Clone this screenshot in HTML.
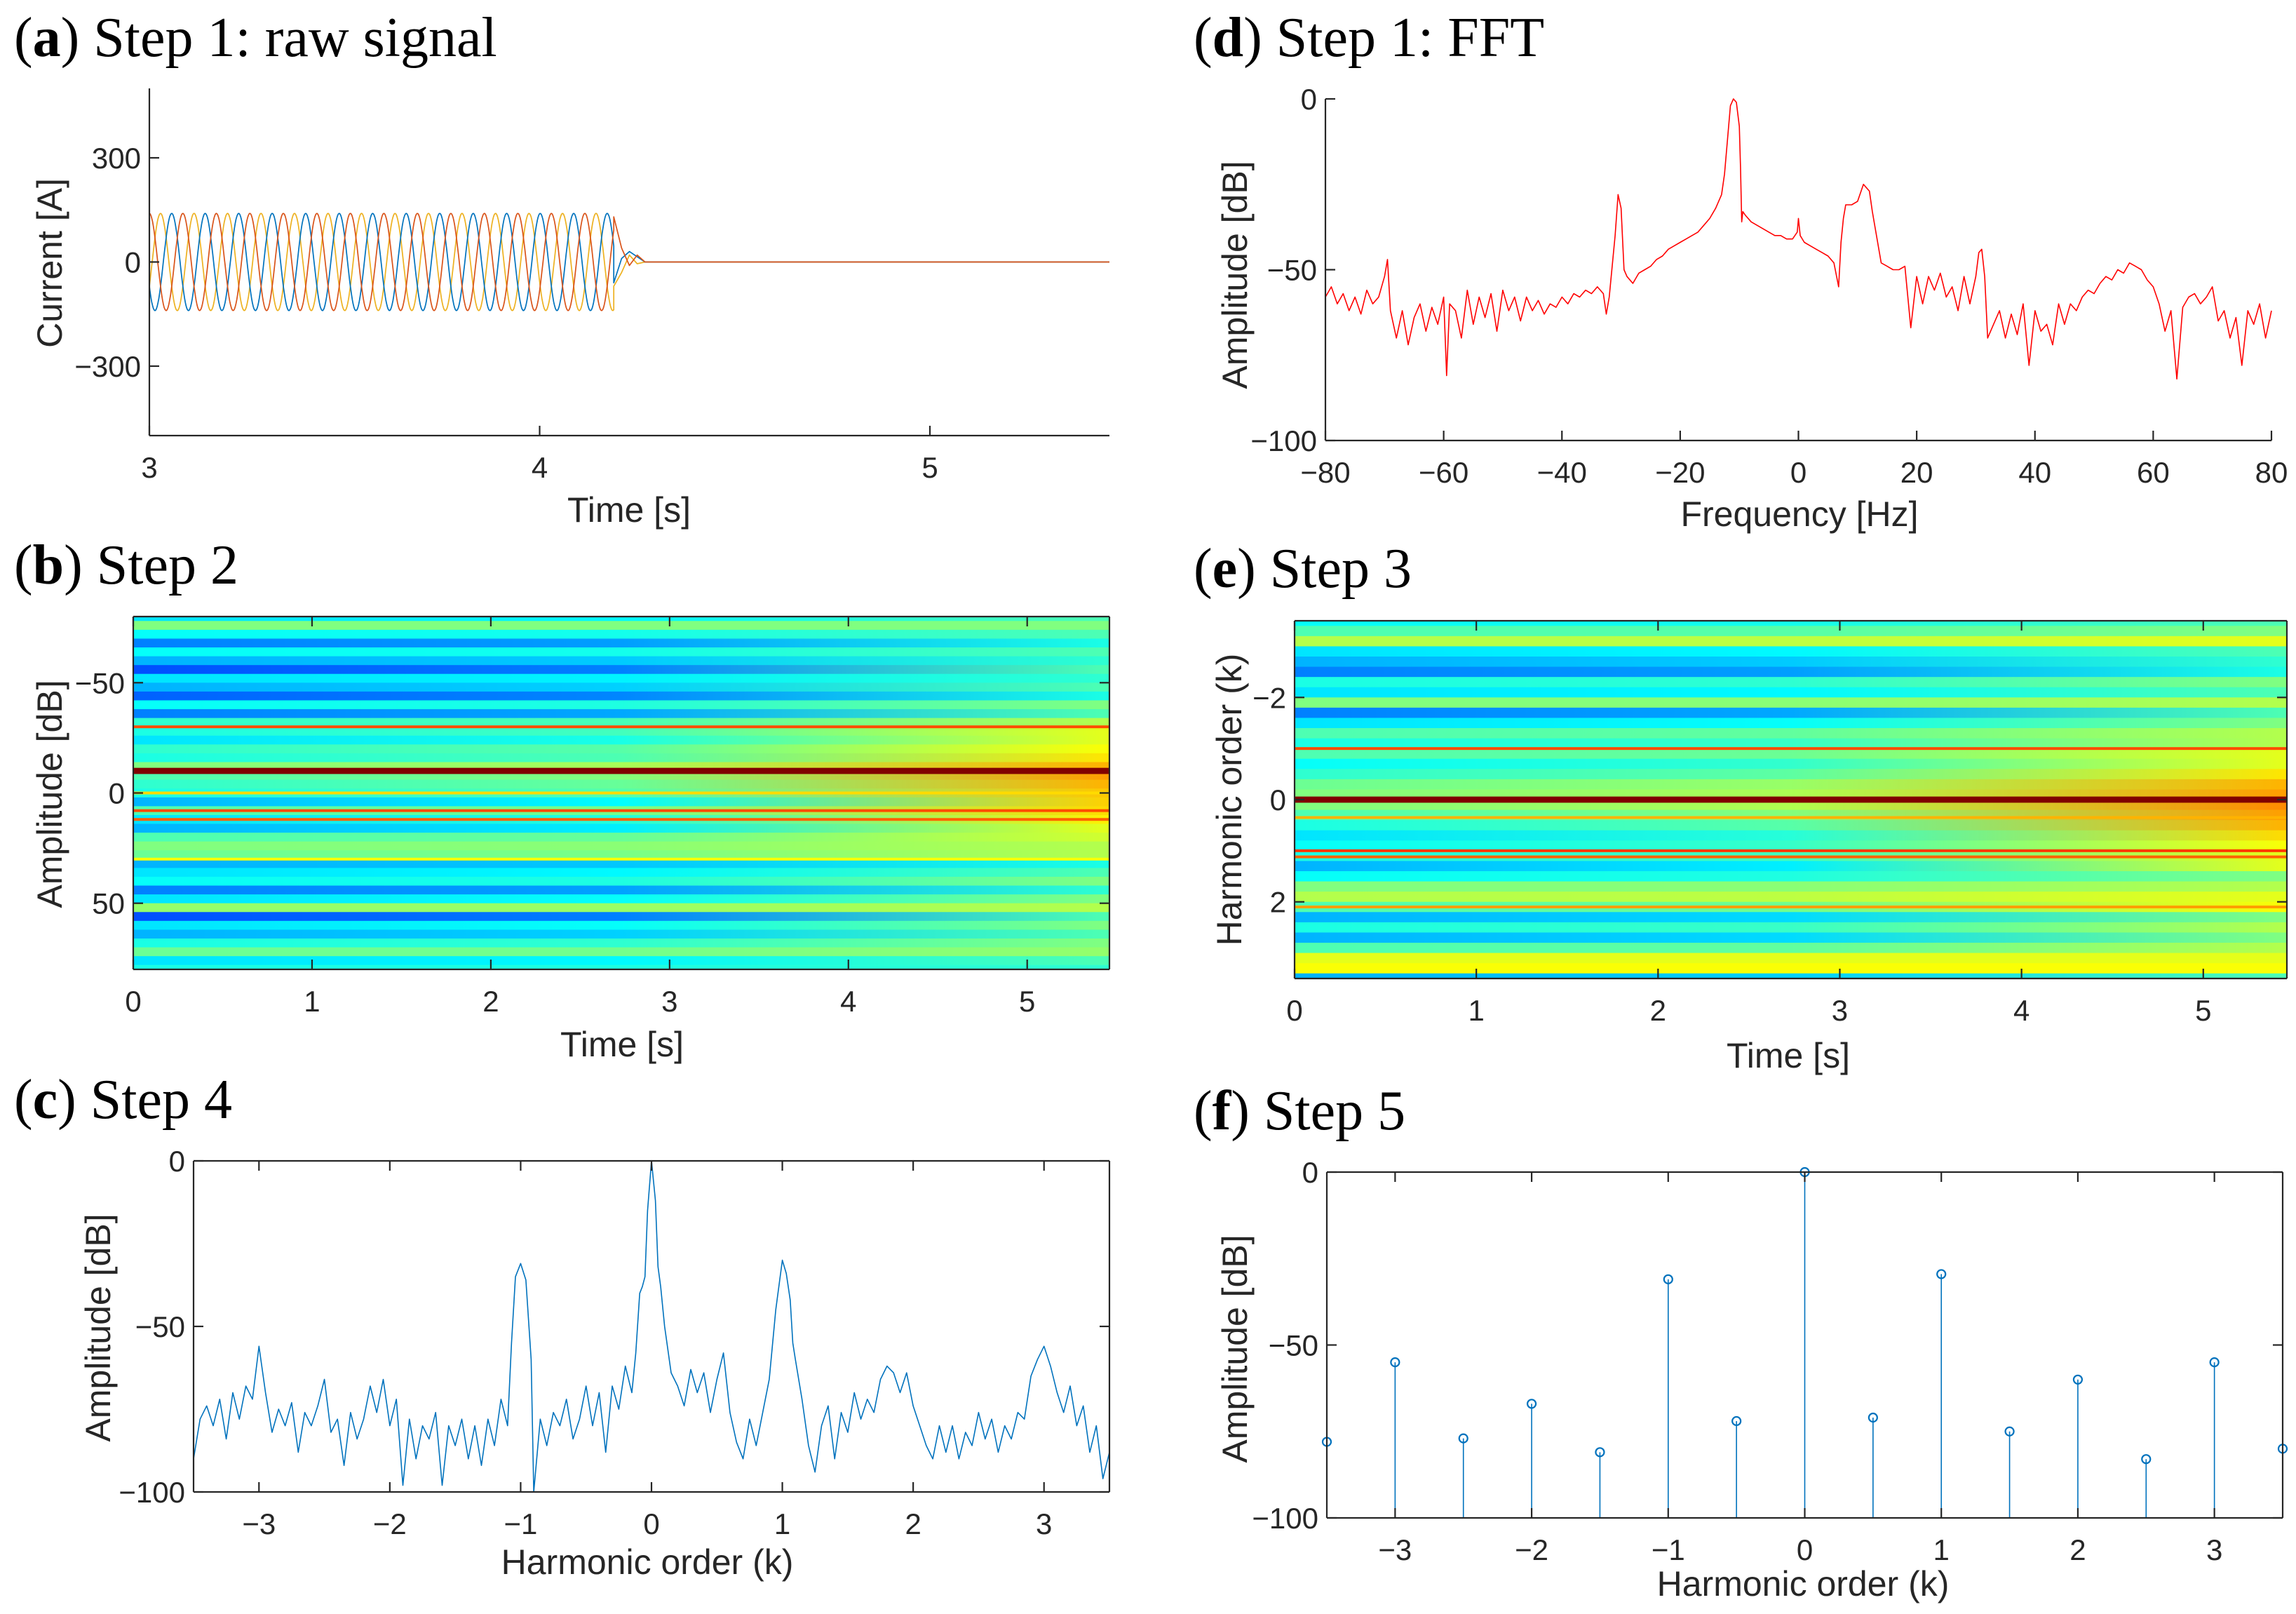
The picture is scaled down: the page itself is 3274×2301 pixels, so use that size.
<!DOCTYPE html>
<html><head><meta charset="utf-8"><style>
html,body{margin:0;padding:0;background:#fff;}
svg{display:block;}
text{font-family:"Liberation Sans",sans-serif;fill:#262626;}
.ttl{font-family:"Liberation Serif",serif;fill:#000;font-size:80px;}
</style></head><body>
<svg id="fig" width="3274" height="2301" viewBox="0 0 3274 2301" xmlns="http://www.w3.org/2000/svg"><defs id="defs"></defs></svg>
<script>
// ---------- data ----------
// (a) raw signal
const phaseNames = ['orange','yellow','blue'];
const phaseAmps = [140, 140, 140];
const sigFreqHz = 11.65;
const faultEndT = 4.19;
const tailT = [4.19, 4.21, 4.23, 4.25, 4.27];
const tailOrange = [130, 40, -10, 20, 0];
const tailYellow = [-70, -30, 20, -5, 0];
const tailBlue = [-60, 10, 30, 15, 0];
// (d) FFT
const fftFreq = [-80,-79,-78,-77,-76,-75,-74,-73,-72,-71,-70,-69.5,-69,-68,-67,-66,-65,-64,-63,-62,-61,-60,-59.5,-59,-58,-57,-56,-55,-54,-53,-52,-51,-50,-49,-48,-47,-46,-45,-44,-43,-42,-41,-40,-39,-38,-37,-36,-35,-34,-33,-32.5,-32,-31,-30.5,-30,-29.5,-29,-28,-27,-26,-25,-24,-23,-22,-21,-20,-19,-18,-17,-16,-15,-14,-13,-12.5,-12,-11.5,-11,-10.5,-10,-9.8,-9.6,-9.4,-9,-8,-7,-6,-5,-4,-3,-2,-1,-0.2,0,0.3,1,2,3,4,5,6,6.8,7.2,7.6,8,9,10,11,12,12.5,13,14,15,16,17,18,18.5,19,20,21,22,23,24,25,26,27,28,29,30,30.5,31,31.5,32,33,34,35,36,37,38,39,40,41,42,43,44,45,46,47,48,49,50,51,52,53,54,55,56,57,58,59,60,61,62,63,64,65,66,67,68,69,70,71,72,73,74,75,76,77,78,79,80];
const fftAmp = [-58,-55,-60,-57,-62,-58,-63,-56,-60,-58,-52,-47,-62,-70,-62,-72,-64,-60,-68,-61,-66,-58,-81,-60,-62,-70,-56,-66,-58,-64,-57,-68,-56,-62,-58,-65,-58,-62,-59,-63,-60,-61,-58,-60,-57,-58,-56,-57,-55,-57,-63,-58,-40,-28,-32,-50,-52,-54,-51,-50,-49,-47,-46,-44,-43,-42,-41,-40,-39,-37,-35,-32,-28,-22,-12,-2,0,-1,-8,-20,-36,-33,-34,-36,-37,-38,-39,-40,-40,-41,-41,-39,-35,-40,-42,-43,-44,-45,-46,-48,-55,-42,-35,-31,-31,-30,-25,-27,-33,-38,-48,-49,-50,-50,-49,-58,-67,-52,-60,-52,-56,-51,-58,-55,-62,-52,-60,-52,-45,-44,-52,-70,-66,-62,-70,-63,-69,-60,-78,-62,-68,-66,-72,-60,-66,-60,-62,-58,-56,-57,-54,-52,-53,-50,-51,-48,-49,-50,-53,-55,-60,-68,-62,-82,-61,-58,-57,-60,-58,-55,-65,-62,-70,-64,-78,-62,-66,-60,-70,-62];
// (c) Step 4 spectrum
const specK = [-3.5,-3.45,-3.4,-3.35,-3.3,-3.25,-3.2,-3.15,-3.1,-3.05,-3.0,-2.95,-2.9,-2.85,-2.8,-2.75,-2.7,-2.65,-2.6,-2.55,-2.5,-2.45,-2.4,-2.35,-2.3,-2.25,-2.2,-2.15,-2.1,-2.05,-2.0,-1.95,-1.9,-1.85,-1.8,-1.75,-1.7,-1.65,-1.6,-1.55,-1.5,-1.45,-1.4,-1.35,-1.3,-1.25,-1.2,-1.15,-1.1,-1.07,-1.04,-1.0,-0.96,-0.92,-0.9,-0.85,-0.8,-0.75,-0.7,-0.65,-0.6,-0.55,-0.5,-0.45,-0.4,-0.35,-0.3,-0.25,-0.2,-0.15,-0.12,-0.09,-0.07,-0.05,-0.03,0,0.03,0.05,0.07,0.1,0.15,0.2,0.25,0.3,0.35,0.4,0.45,0.5,0.55,0.6,0.65,0.7,0.75,0.8,0.85,0.9,0.95,1.0,1.03,1.06,1.08,1.1,1.15,1.2,1.25,1.3,1.35,1.4,1.45,1.5,1.55,1.6,1.65,1.7,1.75,1.8,1.85,1.9,1.95,2.0,2.05,2.1,2.15,2.2,2.25,2.3,2.35,2.4,2.45,2.5,2.55,2.6,2.65,2.7,2.75,2.8,2.85,2.9,2.95,3.0,3.05,3.1,3.15,3.2,3.25,3.3,3.35,3.4,3.45,3.5];
const specAmp = [-90,-78,-74,-80,-72,-84,-70,-78,-68,-72,-56,-70,-82,-75,-80,-73,-88,-76,-80,-74,-66,-82,-78,-92,-76,-84,-78,-68,-76,-66,-80,-72,-98,-78,-90,-80,-84,-76,-98,-80,-86,-78,-90,-80,-92,-78,-86,-72,-80,-55,-35,-31,-36,-60,-100,-78,-86,-76,-80,-72,-84,-78,-68,-80,-70,-88,-68,-75,-62,-70,-58,-40,-38,-35,-15,0,-12,-32,-38,-50,-64,-68,-74,-63,-70,-64,-76,-66,-58,-76,-85,-90,-78,-86,-76,-66,-45,-30,-34,-42,-55,-60,-72,-86,-94,-80,-74,-90,-76,-82,-70,-78,-72,-76,-66,-62,-64,-70,-64,-74,-80,-86,-90,-80,-88,-80,-90,-82,-86,-76,-84,-78,-88,-80,-84,-76,-78,-65,-60,-56,-62,-70,-76,-68,-80,-74,-88,-80,-96,-88];
// (f) Step 5 stems
const stemK = [-3.5,-3,-2.5,-2,-1.5,-1,-0.5,0,0.5,1,1.5,2,2.5,3,3.5];
const stemAmp = [-78,-55,-77,-67,-81,-31,-72,0,-71,-29.5,-75,-60,-83,-55,-80];
// (b) Step 2 heatmap (jet levels 0..1), rows every 4 Hz
const bRowFreq = [-80,-76,-72,-68,-64,-60,-56,-52,-48,-44,-40,-36,-32,-28,-24,-20,-16,-12,-8,-4,0,4,8,12,16,20,24,28,32,36,40,44,48,52,56,60,64,68,72,76,80];
const bLeft = [.35,.5,.38,.25,.38,.3,.2,.35,.3,.22,.38,.25,.42,.4,.35,.42,.4,.5,.45,.42,.4,.3,.45,.35,.3,.45,.5,.48,.3,.35,.38,.25,.35,.52,.2,.35,.3,.4,.48,.35,.4];
const bRight = [.45,.5,.45,.4,.45,.42,.45,.42,.45,.4,.5,.45,.55,.6,.6,.62,.65,.7,.72,.7,.68,.67,.66,.64,.6,.58,.55,.55,.4,.45,.5,.42,.5,.55,.45,.5,.45,.5,.52,.45,.42];
const bLineFreq = [-30, -10, 0, 8, 12, 30];
const bLineLevel = [.8, 1.0, .66, .8, .78, .62];
// (e) Step 3 heatmap, rows every 0.2 k
const eRowK = [-3.5,-3.3,-3.1,-2.9,-2.7,-2.5,-2.3,-2.1,-1.9,-1.7,-1.5,-1.3,-1.1,-0.9,-0.7,-0.5,-0.3,-0.1,0.1,0.3,0.5,0.7,0.9,1.1,1.3,1.5,1.7,1.9,2.1,2.3,2.5,2.7,2.9,3.1,3.3,3.5];
const eLeft = [.38,.45,.55,.35,.3,.25,.4,.35,.5,.25,.35,.45,.4,.45,.38,.42,.48,.5,.5,.45,.4,.35,.38,.4,.3,.38,.5,.55,.45,.3,.4,.3,.45,.6,.62,.3];
const eRight = [.45,.5,.6,.45,.42,.4,.5,.45,.55,.45,.5,.55,.55,.6,.6,.65,.7,.72,.74,.72,.7,.66,.62,.6,.6,.5,.55,.6,.62,.5,.55,.5,.55,.6,.62,.45];
const eLineK = [-1.0, 0, 0.35, 1.0, 1.12, 2.1];
const eLineLevel = [.8, 1.0, .7, .82, .78, .72];

// ---------- helpers ----------
const NS = 'http://www.w3.org/2000/svg';
const svg = document.getElementById('fig');
const defs = document.getElementById('defs');
function el(tag, attrs, parent) {
  const e = document.createElementNS(NS, tag);
  for (const k in attrs) e.setAttribute(k, attrs[k]);
  (parent || svg).appendChild(e);
  return e;
}
function jet(v) {
  v = Math.max(0, Math.min(1, v));
  const r = Math.max(0, Math.min(1, 1.5 - Math.abs(4 * v - 3)));
  const g = Math.max(0, Math.min(1, 1.5 - Math.abs(4 * v - 2)));
  const b = Math.max(0, Math.min(1, 1.5 - Math.abs(4 * v - 1)));
  return 'rgb(' + Math.round(r * 255) + ',' + Math.round(g * 255) + ',' + Math.round(b * 255) + ')';
}
function fmt(v) { return (v < 0 ? '\u2212' : '') + Math.abs(v); }
function makeAxes(p) {
  const g = el('g', {});
  
  
  p.g = g;
  p.sx = v => p.x0 + (v - p.xd[0]) / (p.xd[1] - p.xd[0]) * (p.x1 - p.x0);
  p.sy = p.yrev ? (v => p.y0 + (v - p.yd[0]) / (p.yd[1] - p.yd[0]) * (p.y1 - p.y0))
                : (v => p.y1 - (v - p.yd[0]) / (p.yd[1] - p.yd[0]) * (p.y1 - p.y0));
  const t = el('text', {x: p.tx, y: p.ty, class: 'ttl'}, g);
  
  
  const t1 = el('tspan', {}, t); t1.textContent = '(';
  const t2 = el('tspan', {'font-weight': 'bold'}, t); t2.textContent = p.letter;
  const t3 = el('tspan', {}, t); t3.textContent = ') ' + p.title;
  const plot = el('g', {}, g);
  
  
  p.plot = plot;
  return p;
}
function finishAxes(p) {
  const g = p.g;
  const ax = el('g', {stroke: '#262626', 'stroke-width': 2.2, fill: 'none'}, g);
  
  
  el('line', {x1: p.x0, y1: p.y1, x2: p.x1, y2: p.y1}, ax);
  el('line', {x1: p.x0, y1: p.y0, x2: p.x0, y2: p.y1}, ax);
  if (p.box) {
    el('line', {x1: p.x0, y1: p.y0, x2: p.x1, y2: p.y0}, ax);
    el('line', {x1: p.x1, y1: p.y0, x2: p.x1, y2: p.y1}, ax);
  }
  const tl = 14;
  p.xticks.forEach(v => {
    const x = p.sx(v);
    el('line', {x1: x, y1: p.y1, x2: x, y2: p.y1 - tl}, ax);
    if (p.box) el('line', {x1: x, y1: p.y0, x2: x, y2: p.y0 + tl}, ax);
    const t = el('text', {x: x, y: p.y1 + 60, 'font-size': 42, 'text-anchor': 'middle'}, g);
    
    
    t.textContent = fmt(v);
  });
  p.yticks.forEach(v => {
    const y = p.sy(v);
    el('line', {x1: p.x0, y1: y, x2: p.x0 + tl, y2: y}, ax);
    if (p.box) el('line', {x1: p.x1, y1: y, x2: p.x1 - tl, y2: y}, ax);
    const t = el('text', {x: p.x0 - 12, y: y + 15, 'font-size': 42, 'text-anchor': 'end'}, g);
    
    
    t.textContent = fmt(v);
  });
  const xl = el('text', {x: p.xlx, y: p.xly, 'font-size': 50, 'text-anchor': 'middle'}, g);
  
  
  xl.textContent = p.xlabel;
  const yl = el('text', {x: 0, y: 0, 'font-size': 50, 'text-anchor': 'middle', transform: 'translate(' + p.ylx + ',' + p.yly + ') rotate(-90)'}, g);
  
  
  yl.textContent = p.ylabel;
}
function linePath(p, xs, ys, color, width, name) {
  let d = '';
  for (let i = 0; i < xs.length; i++) {
    const yv = Math.max(p.yd[0], Math.min(p.yd[1], ys[i]));
    d += (i ? 'L' : 'M') + p.sx(xs[i]).toFixed(1) + ',' + p.sy(yv).toFixed(1);
  }
  const path = el('path', {d: d, fill: 'none', stroke: color, 'stroke-width': width, 'stroke-linejoin': 'round'}, p.plot);
  
  
  return path;
}
let gradId = 0;
function heatmap(p, rows, left, right, step, lines, lineLvl, lineW) {
  rows.forEach((r, i) => {
    const id = 'hg' + (gradId++);
    const lg = el('linearGradient', {id: id, x1: 0, y1: 0, x2: 1, y2: 0}, defs);
    el('stop', {offset: 0, 'stop-color': jet(left[i])}, lg);
    el('stop', {offset: 0.5, 'stop-color': jet(left[i] * 0.8 + right[i] * 0.2)}, lg);
    el('stop', {offset: 1, 'stop-color': jet(right[i])}, lg);
    const ya = p.sy(Math.max(p.yd[0], r - step / 2)), yb = p.sy(Math.min(p.yd[1], r + step / 2));
    const rc = el('rect', {x: p.x0, y: Math.min(ya, yb), width: p.x1 - p.x0, height: Math.abs(yb - ya) + 0.5, fill: 'url(#' + id + ')'}, p.plot);
    
    
  });
  lines.forEach((r, i) => {
    const w = lineLvl[i] >= 1 ? lineW * 2.2 : lineW;
    const ln = el('rect', {x: p.x0, y: p.sy(r) - w / 2, width: p.x1 - p.x0, height: w, fill: jet(lineLvl[i])}, p.plot);
    
    
  });
}

// ---------- (a) ----------
const A = makeAxes({name: 'panel-a-raw-signal', letter: 'a', title: 'Step 1: raw signal', tx: 20, ty: 80,
  x0: 213, x1: 1582, y0: 126, y1: 621, xd: [3, 5.46], yd: [-500, 500], box: false,
  xticks: [3, 4, 5], yticks: [-300, 0, 300], xlabel: 'Time [s]', ylabel: 'Current [A]', xlx: 897, xly: 744, ylx: 88, yly: 375});
const aColors = {orange: '#D95319', yellow: '#EDB120', blue: '#0072BD'};
const aTails = {orange: tailOrange, yellow: tailYellow, blue: tailBlue};
['yellow', 'blue', 'orange'].forEach(nm => {
  const idx = phaseNames.indexOf(nm);
  const xs = [], ys = [];
  for (let t = 3; t <= faultEndT; t += 0.002) {
    xs.push(t);
    ys.push(phaseAmps[idx] * Math.cos(2 * Math.PI * sigFreqHz * (t - 3) - idx * 2 * Math.PI / 3));
  }
  aTails[nm].forEach((v, i) => { xs.push(tailT[i]); ys.push(v); });
  xs.push(5.46); ys.push(0);
  linePath(A, xs, ys, aColors[nm], 1.7, 'phase-current-' + nm);
});
finishAxes(A);

// ---------- (b) ----------
const B = makeAxes({name: 'panel-b-step2', letter: 'b', title: 'Step 2', tx: 20, ty: 832,
  x0: 190, x1: 1582, y0: 879, y1: 1382, xd: [0, 5.46], yd: [-80, 80], yrev: true, box: true,
  xticks: [0, 1, 2, 3, 4, 5], yticks: [-50, 0, 50], xlabel: 'Time [s]', ylabel: 'Amplitude [dB]', xlx: 887, xly: 1506, ylx: 88, yly: 1132});
heatmap(B, bRowFreq, bLeft, bRight, 4, bLineFreq, bLineLevel, 4);
finishAxes(B);

// ---------- (c) ----------
const C = makeAxes({name: 'panel-c-step4', letter: 'c', title: 'Step 4', tx: 20, ty: 1594,
  x0: 276, x1: 1582, y0: 1655, y1: 2127, xd: [-3.5, 3.5], yd: [-100, 0], box: true,
  xticks: [-3, -2, -1, 0, 1, 2, 3], yticks: [-100, -50, 0], xlabel: 'Harmonic order (k)', ylabel: 'Amplitude [dB]', xlx: 923, xly: 2244, ylx: 157, yly: 1893});
linePath(C, specK, specAmp, '#0072BD', 1.6, 'spectrum-line');
finishAxes(C);

// ---------- (d) ----------
const D = makeAxes({name: 'panel-d-fft', letter: 'd', title: 'Step 1: FFT', tx: 1702, ty: 80,
  x0: 1890, x1: 3239, y0: 141, y1: 628, xd: [-80, 80], yd: [-100, 0], box: false,
  xticks: [-80, -60, -40, -20, 0, 20, 40, 60, 80], yticks: [-100, -50, 0], xlabel: 'Frequency [Hz]', ylabel: 'Amplitude [dB]', xlx: 2566, xly: 750, ylx: 1778, yly: 392});
linePath(D, fftFreq, fftAmp, '#FF0000', 1.6, 'fft-line');
finishAxes(D);

// ---------- (e) ----------
const E = makeAxes({name: 'panel-e-step3', letter: 'e', title: 'Step 3', tx: 1702, ty: 837,
  x0: 1846, x1: 3261, y0: 885, y1: 1395, xd: [0, 5.46], yd: [-3.5, 3.5], yrev: true, box: true,
  xticks: [0, 1, 2, 3, 4, 5], yticks: [-2, 0, 2], xlabel: 'Time [s]', ylabel: 'Harmonic order (k)', xlx: 2550, xly: 1522, ylx: 1770, yly: 1140});
heatmap(E, eRowK, eLeft, eRight, 0.2, eLineK, eLineLevel, 4);
finishAxes(E);

// ---------- (f) ----------
const F = makeAxes({name: 'panel-f-step5', letter: 'f', title: 'Step 5', tx: 1702, ty: 1610,
  x0: 1892, x1: 3255, y0: 1671, y1: 2164, xd: [-3.5, 3.5], yd: [-100, 0], box: true,
  xticks: [-3, -2, -1, 0, 1, 2, 3], yticks: [-100, -50, 0], xlabel: 'Harmonic order (k)', ylabel: 'Amplitude [dB]', xlx: 2571, xly: 2275, ylx: 1778, yly: 1923});
stemK.forEach((k, i) => {
  const x = F.sx(k);
  const st = el('line', {x1: x, y1: F.sy(-100), x2: x, y2: F.sy(stemAmp[i]), stroke: '#0072BD', 'stroke-width': 1.6}, F.plot);
  
  
  const mk = el('circle', {cx: x, cy: F.sy(stemAmp[i]), r: 6, fill: 'none', stroke: '#0072BD', 'stroke-width': 2.2}, F.plot);
  
  
});
finishAxes(F);
</script>
</body></html>
